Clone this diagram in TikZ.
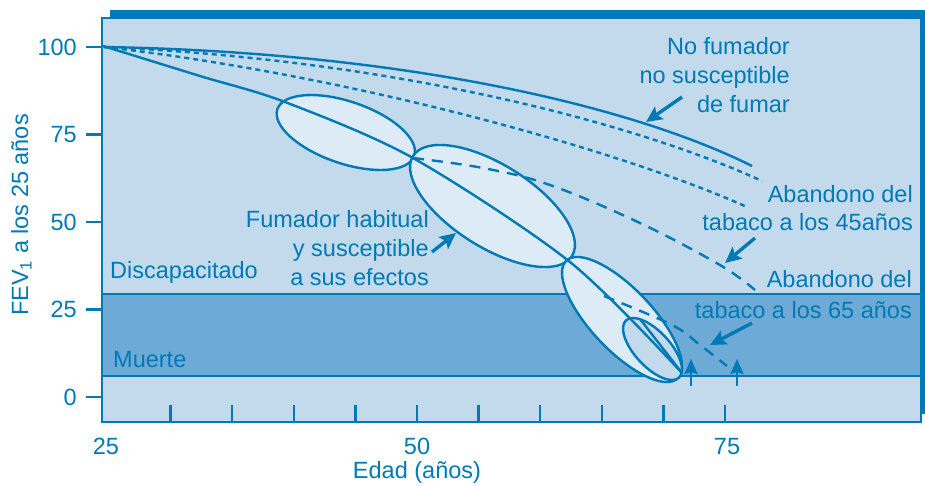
\documentclass[tikz,border=0pt]{standalone}
\usepackage{fontspec}
\setmainfont{Liberation Sans}
\usetikzlibrary{arrows.meta}
\definecolor{dblue}{RGB}{0,122,182}
\definecolor{lpanel}{RGB}{194,218,236}
\definecolor{bandc}{RGB}{109,170,214}
\definecolor{ellfill}{RGB}{221,235,246}
\begin{document}
\begin{tikzpicture}[x=1pt,y=-1pt,
  lbl/.style={text=dblue, font=\fontsize{23.5}{28}\selectfont, inner sep=0pt},
  curve/.style={draw=dblue, line width=2.4pt},
  dotline/.style={curve, dash pattern=on 5pt off 4pt},
  dashline/.style={curve, dash pattern=on 11pt off 8pt},
  ptr/.style={draw=dblue, line width=3.4pt, -{Stealth[length=16pt,width=15pt,inset=3pt]}},
  upptr/.style={draw=dblue, line width=2.6pt, -{Stealth[length=15pt,width=13pt,inset=2pt]}},
  tick/.style={draw=dblue, line width=2.4pt},
  ell/.style={draw=dblue, line width=2.4pt, fill=ellfill}
]
\useasboundingbox (0,0) rectangle (925,485);
% panel with shadow
\fill[dblue] (110,10) rectangle (925,414);
\fill[lpanel] (102,18) rectangle (921,422);
\fill[bandc] (102,294) rectangle (921,376);
\draw[tick] (102,294) -- (921,294);
\draw[tick] (102,376) -- (921,376);
\draw[dblue, line width=2.6pt] (102,18) rectangle (921,422);
% y ticks and labels
\foreach \v/\yy in {100/47,75/134.5,50/222,25/309.5,0/397}{
  \draw[tick] (86,\yy) -- (102,\yy);
  \node[lbl, anchor=base east] at (77,\yy+8) {\v};
}
% x ticks
\foreach \a in {30,35,...,75}{
  \draw[tick] ({109+(\a-25)*12.32},405) -- ({109+(\a-25)*12.32},422);
}
\node[lbl, anchor=base] (x25) at (106,454) {25};
\node[lbl, anchor=base] (x50) at (417,454) {50};
\node[lbl, anchor=base] (x75) at (727,454) {75};
\node[lbl, anchor=base] (xlab) at (417,478) {Edad (años)};
\node[lbl, rotate=90, anchor=base] (ylab) at (28,215) {FEV\textsubscript{1} a los 25 años};
% ellipses
\draw[ell, rotate around={-18.8:(345.8,132.5)}] (345.8,132.5) ellipse [x radius=72.3pt, y radius=31pt];
\draw[ell, rotate around={-32.2:(492.5,206)}] (492.5,206) ellipse [x radius=93.9pt, y radius=41.3pt];
\draw[ell, rotate around={-46.6:(622,319.5)}] (622,319.5) ellipse [x radius=81pt, y radius=30.8pt];
\draw[ell, fill=lpanel, rotate around={-47.2:(652.5,349)}] (652.5,349) ellipse [x radius=39pt, y radius=17.6pt];
% curves
\coordinate (o) at (104,47);
\coordinate (nfEnd) at (752,166);
\coordinate (d1End) at (762,181);
\coordinate (d2End) at (747,207);
\draw[curve] (o) .. controls (400,52) and (630,105) .. (nfEnd);
\draw[dotline] (o) .. controls (400,60) and (640,125) .. (d1End);
\draw[dotline] (o) .. controls (350,75) and (620,150) .. (d2End);
\draw[curve] plot[smooth, tension=0.5] coordinates {(103,46) (200,76) (285,102) (413,158) (570,262) (682,373)};
\draw[curve] (640,319) -- (682,373);
\draw[dashline] plot[smooth, tension=0.6] coordinates {(413,158) (483,168) (550,185) (640,223) (720,265) (755,290)};
\draw[dashline] plot[smooth, tension=0.6] coordinates {(604,296) (672,325) (700,345) (727,366)};
% labels
\node[lbl, anchor=base east] (nf1) at (790,54) {No fumador};
\node[lbl, anchor=base east] (nf2) at (790,83) {no susceptible};
\node[lbl, anchor=base east] (nf3) at (790,112) {de fumar};
\node[lbl, anchor=base east] (a45a) at (913,202) {Abandono del};
\node[lbl, anchor=base east] (a45b) at (913,230) {tabaco a los 45años};
\node[lbl, anchor=base east] (a65a) at (912,287) {Abandono del};
\node[lbl, anchor=base east] (a65b) at (912,318) {tabaco a los 65 años};
\node[lbl, anchor=base east] (fh1) at (429,227) {Fumador habitual};
\node[lbl, anchor=base east] (fh2) at (429,256) {y susceptible};
\node[lbl, anchor=base east] (fh3) at (429,285) {a sus efectos};
\node[lbl, anchor=base west] (disc) at (110,278) {Discapacitado};
\node[lbl, anchor=base west] (muer) at (113,367) {Muerte};
% pointer arrows
\coordinate (pnfA) at (682,97);  \coordinate (pnfB) at (646,122);
\coordinate (p45A) at (755,238); \coordinate (p45B) at (725,263);
\coordinate (p65A) at (752,323); \coordinate (p65B) at (710,345);
\coordinate (pfhA) at (432,252); \coordinate (pfhB) at (456,233);
\draw[ptr] (pnfA) -- (pnfB);
\draw[ptr] (p45A) -- (p45B);
\draw[ptr] (p65A) -- (p65B);
\draw[ptr] (pfhA) -- (pfhB);
\coordinate (u1A) at (691,386); \coordinate (u1B) at (691,359);
\coordinate (u2A) at (737,386); \coordinate (u2B) at (737,359);
\draw[upptr] (u1A) -- (u1B);
\draw[upptr] (u2A) -- (u2B);
\end{tikzpicture}
\end{document}
